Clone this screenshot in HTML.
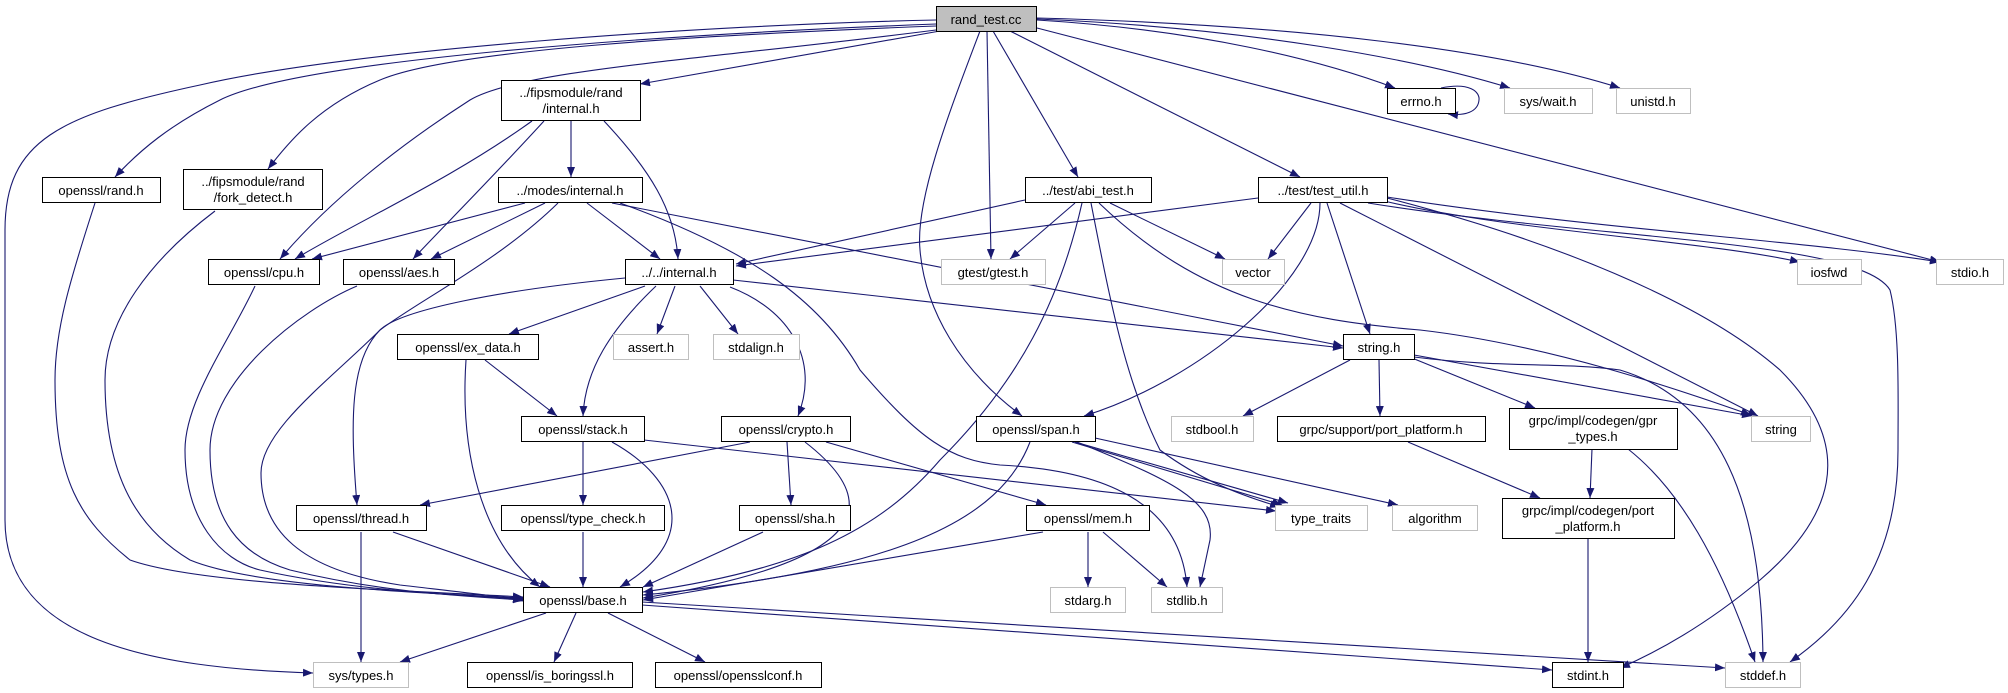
<!DOCTYPE html>
<html><head><meta charset="utf-8"><style>
html,body{margin:0;padding:0;background:#fff;}
svg{display:block;}
text{font-family:"Liberation Sans","DejaVu Sans",sans-serif;font-size:13px;fill:#000;text-anchor:middle;}
.e{fill:none;stroke:#191970;stroke-width:1.1;marker-end:url(#a);}
.n{fill:#fff;stroke:#000;stroke-width:1;}
.g{fill:#fff;stroke:#bfbfbf;stroke-width:1;}
</style></head><body>
<svg width="2008" height="693" viewBox="0 0 2008 693" xmlns="http://www.w3.org/2000/svg">
<defs><marker id="a" viewBox="0 0 10 8" refX="10" refY="4" markerWidth="10" markerHeight="8" markerUnits="userSpaceOnUse" orient="auto"><path d="M0,0 L10,4 L0,8 z" fill="#191970"/></marker></defs>
<g>
<path class="e" d="M936,20 C700,25 350,50 200,85 C60,115 5,140 5,230 L5,520 C5,640 150,668 313,673"/>
<path class="e" d="M936,24 C650,35 300,60 220,100 C170,125 140,150 115,177"/>
<path class="e" d="M936,26 C700,35 450,50 380,80 C320,105 290,140 268,169"/>
<path class="e" d="M936,30 C700,60 520,70 470,100 C400,145 330,200 280,259"/>
<path class="e" d="M940,31 L640,84"/>
<path class="e" d="M1037,20 C1200,30 1320,60 1395,88"/>
<path class="e" d="M1037,19 C1250,28 1420,60 1510,88"/>
<path class="e" d="M1037,18 C1300,25 1500,50 1620,88"/>
<path class="e" d="M1037,28 L1940,262"/>
<path class="e" d="M1010,31 L1300,177"/>
<path class="e" d="M993,31 L1078,177"/>
<path class="e" d="M987,31 L991,259"/>
<path class="e" d="M980,31 C950,110 915,200 920,250 C925,310 960,370 1022,416"/>
<path class="e" d="M1441,88 C1470,82 1480,92 1479,100 C1478,112 1465,116 1448,114"/>
<path class="e" d="M532,121 C450,180 360,220 295,259"/>
<path class="e" d="M544,121 C490,180 440,230 413,259"/>
<path class="e" d="M571,121 L571,177"/>
<path class="e" d="M604,121 C650,170 675,210 678,259"/>
<path class="e" d="M525,203 L312,259"/>
<path class="e" d="M545,203 L431,259"/>
<path class="e" d="M587,203 L660,259"/>
<path class="e" d="M612,203 L1343,346"/>
<path class="e" d="M620,203 C750,250 820,300 860,370 C920,440 950,460 1000,465 C1100,470 1180,500 1187,587"/>
<path class="e" d="M645,286 L509,334"/>
<path class="e" d="M675,286 L657,334"/>
<path class="e" d="M700,286 L738,334"/>
<path class="e" d="M730,287 C790,310 820,360 798,416"/>
<path class="e" d="M656,286 C610,330 585,370 583,416"/>
<path class="e" d="M625,278 C500,290 400,310 380,330 C350,360 350,420 357,505"/>
<path class="e" d="M733,280 L1343,348"/>
<path class="e" d="M95,203 C70,280 55,330 55,380 C55,480 80,520 130,560 C200,585 400,590 523,597"/>
<path class="e" d="M215,211 C150,260 105,320 105,380 C105,480 140,530 190,560 C250,585 400,592 523,598"/>
<path class="e" d="M255,286 C230,340 185,400 185,450 C185,520 220,560 260,570 C350,590 450,595 523,599"/>
<path class="e" d="M357,286 C300,310 210,380 210,450 C210,520 240,555 290,570 C380,592 460,596 523,600"/>
<path class="e" d="M558,203 C500,260 420,300 380,330 C330,380 261,430 261,473 C261,530 300,570 400,585 C460,592 500,596 523,601"/>
<path class="e" d="M1082,203 C1060,300 1020,380 940,460 C880,530 800,570 643,592"/>
<path class="e" d="M1030,442 C1000,520 900,570 643,595"/>
<path class="e" d="M805,442 C880,500 880,560 643,598"/>
<path class="e" d="M763,532 L643,587"/>
<path class="e" d="M1043,532 L643,600"/>
<path class="e" d="M612,442 C680,480 700,540 620,587"/>
<path class="e" d="M583,442 L583,505"/>
<path class="e" d="M644,440 L1276,511"/>
<path class="e" d="M583,532 L583,587"/>
<path class="e" d="M393,532 L550,587"/>
<path class="e" d="M361,532 L361,662"/>
<path class="e" d="M485,360 L557,416"/>
<path class="e" d="M466,360 C460,450 480,540 540,587"/>
<path class="e" d="M750,442 L420,505"/>
<path class="e" d="M787,442 L791,505"/>
<path class="e" d="M826,442 L1046,505"/>
<path class="e" d="M546,613 L400,662"/>
<path class="e" d="M576,613 L554,662"/>
<path class="e" d="M608,613 L705,662"/>
<path class="e" d="M642,605 L1552,670"/>
<path class="e" d="M642,602 L1725,668"/>
<path class="e" d="M1088,532 L1088,587"/>
<path class="e" d="M1103,532 L1167,587"/>
<path class="e" d="M1072,442 L1282,505"/>
<path class="e" d="M1075,442 L1288,503"/>
<path class="e" d="M1095,438 L1398,505"/>
<path class="e" d="M1077,442 C1170,480 1215,500 1210,540 L1200,587"/>
<path class="e" d="M1025,200 L736,264"/>
<path class="e" d="M1075,203 L1010,259"/>
<path class="e" d="M1110,203 L1225,259"/>
<path class="e" d="M1091,203 C1110,300 1125,380 1160,450 C1200,480 1240,495 1280,507"/>
<path class="e" d="M1099,203 C1200,300 1300,320 1420,330 C1550,345 1680,390 1751,415"/>
<path class="e" d="M1258,198 L736,266"/>
<path class="e" d="M1311,203 L1268,259"/>
<path class="e" d="M1320,203 C1320,280 1200,380 1084,416"/>
<path class="e" d="M1327,203 L1370,334"/>
<path class="e" d="M1340,203 L1758,416"/>
<path class="e" d="M1380,200 C1500,230 1700,240 1800,262"/>
<path class="e" d="M1387,197 C1600,230 1800,240 1940,262"/>
<path class="e" d="M1387,198 C1550,240 1700,300 1780,370 C1860,450 1830,520 1760,580 C1700,630 1650,655 1620,668"/>
<path class="e" d="M1368,203 C1600,240 1860,240 1890,290 C1900,330 1898,400 1898,450 C1898,560 1850,620 1790,662"/>
<path class="e" d="M1350,360 L1243,416"/>
<path class="e" d="M1379,360 L1380,416"/>
<path class="e" d="M1412,358 L1535,408"/>
<path class="e" d="M1414,355 L1752,416"/>
<path class="e" d="M1414,357 C1500,368 1560,362 1620,370 C1720,400 1762,500 1763,662"/>
<path class="e" d="M1408,442 L1540,498"/>
<path class="e" d="M1592,449 L1590,498"/>
<path class="e" d="M1628,449 C1680,490 1720,560 1755,662"/>
<path class="e" d="M1588,539 L1588,662"/>
</g>
<g>
<rect x="936.5" y="6.5" width="100" height="25" fill="#bfbfbf" stroke="#000"/><text x="986" y="24">rand_test.cc</text>
<rect class="n" x="501.5" y="80.5" width="139" height="40"/><text x="571" y="97">../fipsmodule/rand</text><text x="571" y="113">/internal.h</text>
<rect class="n" x="42.5" y="177.5" width="118" height="25"/><text x="101" y="195">openssl/rand.h</text>
<rect class="n" x="183.5" y="169.5" width="139" height="40"/><text x="253" y="186">../fipsmodule/rand</text><text x="253" y="202">/fork_detect.h</text>
<rect class="n" x="498.5" y="177.5" width="144" height="25"/><text x="570" y="195">../modes/internal.h</text>
<rect class="n" x="208.5" y="259.5" width="111" height="25"/><text x="264" y="277">openssl/cpu.h</text>
<rect class="n" x="343.5" y="259.5" width="111" height="25"/><text x="399" y="277">openssl/aes.h</text>
<rect class="n" x="625.5" y="259.5" width="108" height="25"/><text x="679" y="277">../../internal.h</text>
<rect class="g" x="613.5" y="334.5" width="75" height="25"/><text x="651" y="352">assert.h</text>
<rect class="n" x="397.5" y="334.5" width="141" height="25"/><text x="468" y="352">openssl/ex_data.h</text>
<rect class="g" x="713.5" y="334.5" width="86" height="25"/><text x="756" y="352">stdalign.h</text>
<rect class="g" x="941.5" y="259.5" width="104" height="25"/><text x="993" y="277">gtest/gtest.h</text>
<rect class="n" x="1025.5" y="177.5" width="126" height="25"/><text x="1088" y="195">../test/abi_test.h</text>
<rect class="g" x="1222.5" y="259.5" width="62" height="25"/><text x="1253" y="277">vector</text>
<rect class="n" x="1258.5" y="177.5" width="129" height="25"/><text x="1323" y="195">../test/test_util.h</text>
<rect class="n" x="1387.5" y="88.5" width="68" height="25"/><text x="1421" y="106">errno.h</text>
<rect class="g" x="1504.5" y="88.5" width="88" height="25"/><text x="1548" y="106">sys/wait.h</text>
<rect class="g" x="1616.5" y="88.5" width="74" height="25"/><text x="1653" y="106">unistd.h</text>
<rect class="g" x="1797.5" y="259.5" width="64" height="25"/><text x="1829" y="277">iosfwd</text>
<rect class="g" x="1936.5" y="259.5" width="67" height="25"/><text x="1970" y="277">stdio.h</text>
<rect class="n" x="1343.5" y="334.5" width="71" height="25"/><text x="1379" y="352">string.h</text>
<rect class="n" x="521.5" y="416.5" width="123" height="25"/><text x="583" y="434">openssl/stack.h</text>
<rect class="n" x="296.5" y="505.5" width="130" height="25"/><text x="361" y="523">openssl/thread.h</text>
<rect class="n" x="501.5" y="505.5" width="163" height="25"/><text x="583" y="523">openssl/type_check.h</text>
<rect class="n" x="523.5" y="587.5" width="119" height="25"/><text x="583" y="605">openssl/base.h</text>
<rect class="g" x="313.5" y="662.5" width="95" height="25"/><text x="361" y="680">sys/types.h</text>
<rect class="n" x="467.5" y="662.5" width="165" height="25"/><text x="550" y="680">openssl/is_boringssl.h</text>
<rect class="n" x="655.5" y="662.5" width="166" height="25"/><text x="738" y="680">openssl/opensslconf.h</text>
<rect class="n" x="721.5" y="416.5" width="129" height="25"/><text x="786" y="434">openssl/crypto.h</text>
<rect class="n" x="976.5" y="416.5" width="119" height="25"/><text x="1036" y="434">openssl/span.h</text>
<rect class="g" x="1171.5" y="416.5" width="82" height="25"/><text x="1212" y="434">stdbool.h</text>
<rect class="n" x="1277.5" y="416.5" width="208" height="25"/><text x="1381" y="434">grpc/support/port_platform.h</text>
<rect class="n" x="739.5" y="505.5" width="111" height="25"/><text x="795" y="523">openssl/sha.h</text>
<rect class="n" x="1026.5" y="505.5" width="123" height="25"/><text x="1088" y="523">openssl/mem.h</text>
<rect class="g" x="1275.5" y="505.5" width="92" height="25"/><text x="1321" y="523">type_traits</text>
<rect class="g" x="1392.5" y="505.5" width="85" height="25"/><text x="1435" y="523">algorithm</text>
<rect class="g" x="1050.5" y="587.5" width="75" height="25"/><text x="1088" y="605">stdarg.h</text>
<rect class="g" x="1151.5" y="587.5" width="71" height="25"/><text x="1187" y="605">stdlib.h</text>
<rect class="n" x="1509.5" y="408.5" width="168" height="41"/><text x="1593" y="425">grpc/impl/codegen/gpr</text><text x="1593" y="441">_types.h</text>
<rect class="g" x="1751.5" y="416.5" width="59" height="25"/><text x="1781" y="434">string</text>
<rect class="n" x="1502.5" y="498.5" width="172" height="40"/><text x="1588" y="515">grpc/impl/codegen/port</text><text x="1588" y="531">_platform.h</text>
<rect class="n" x="1552.5" y="662.5" width="71" height="25"/><text x="1588" y="680">stdint.h</text>
<rect class="g" x="1725.5" y="662.5" width="75" height="25"/><text x="1763" y="680">stddef.h</text>
</g>
</svg>
</body></html>
